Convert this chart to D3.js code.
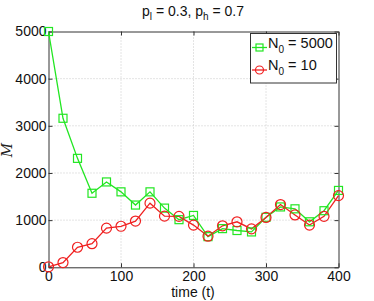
<!DOCTYPE html>
<html>
<head>
<meta charset="utf-8">
<script src="https://cdn.jsdelivr.net/npm/d3@7"></script>
<style>
  body { margin: 0; background: #fff; }
  text { font-family: "Liberation Sans", Arial, sans-serif; }
</style>
</head>
<body>
<script>
const times = d3.range(0, 401, 20);
const high = [5000, 3160, 2310, 1570, 1810, 1600, 1320, 1600, 1255, 1010, 1100,
              650, 820, 780, 750, 1060, 1280, 1240, 965, 1200, 1630];
const low = [10, 100, 425, 500, 830, 870, 980, 1360, 1085, 1080, 895,
             660, 880, 965, 815, 1057, 1330, 1110, 895, 1080, 1520];
const xTicks = [0, 100, 200, 300, 400];
const yTicks = [0, 1000, 2000, 3000, 4000, 5000];

const width = 374, height = 301;
const margin = {top: 31.5, right: 35.5, bottom: 33.7, left: 48.5};
const iw = width - margin.left - margin.right,
      ih = height - margin.top - margin.bottom;

const svg = d3.select('body').append('svg')
    .attr('width', width)
    .attr('height', height);

const x = d3.scaleLinear().domain([0, 400]).range([0, iw]);
const y = d3.scaleLinear().domain([0, 5000]).range([ih, 0]);

const g = svg.append('g')
    .attr('transform', `translate(${margin.left},${margin.top})`);

// grid
g.append('g').selectAll('line')
  .data(xTicks.slice(1, -1))
  .join('line')
    .attr('x1', d => x(d)).attr('x2', d => x(d))
    .attr('y1', 0).attr('y2', ih)
    .attr('stroke', '#c8c8c8').attr('stroke-dasharray', '1,2');
g.append('g').selectAll('line')
  .data(yTicks.slice(1, -1))
  .join('line')
    .attr('x1', 0).attr('x2', iw)
    .attr('y1', d => y(d)).attr('y2', d => y(d))
    .attr('stroke', '#c8c8c8').attr('stroke-dasharray', '1,2');

// axes
const fmt = d3.format('d');
g.append('g')
    .attr('transform', `translate(0,${ih})`)
    .call(d3.axisBottom(x).tickValues(xTicks).tickFormat(fmt).tickSizeInner(-4).tickSizeOuter(0).tickPadding(4));
g.append('g')
    .call(d3.axisLeft(y).tickValues(yTicks).tickFormat(fmt).tickSizeInner(-4).tickSizeOuter(0).tickPadding(2));
g.append('g')
    .attr('transform', `translate(${iw},0)`)
    .call(d3.axisRight(y).tickValues(yTicks).tickSizeInner(-4).tickSizeOuter(0).tickFormat(''));
g.append('g')
    .call(d3.axisTop(x).tickValues(xTicks).tickSizeInner(-4).tickSizeOuter(0).tickFormat(''));

g.selectAll('.domain').attr('stroke', '#333');
g.selectAll('.tick line').attr('stroke', '#333');
g.selectAll('.tick text')
    .attr('fill', '#111')
    .style('font-size', '14px')
    .style('font-family', '"Liberation Sans", Arial, sans-serif');

// series
const line = d3.line().x((d, i) => x(times[i])).y(d => y(d));

g.append('path').datum(high)
    .attr('fill', 'none').attr('stroke', '#22e622').attr('stroke-width', 1.3)
    .attr('d', line);
g.append('path').datum(low)
    .attr('fill', 'none').attr('stroke', '#f02020').attr('stroke-width', 1.3)
    .attr('d', line);

g.append('g').selectAll('rect')
  .data(high)
  .join('rect')
    .attr('x', (d, i) => x(times[i]) - 4)
    .attr('y', d => y(d) - 4)
    .attr('width', 8).attr('height', 8)
    .attr('fill', 'none').attr('stroke', '#22e622').attr('stroke-width', 1.2);
g.append('g').selectAll('circle')
  .data(low)
  .join('circle')
    .attr('cx', (d, i) => x(times[i]))
    .attr('cy', d => y(d))
    .attr('r', 5)
    .attr('fill', 'none').attr('stroke', '#f02020').attr('stroke-width', 1.2);

// title
const title = svg.append('text')
    .attr('x', 193).attr('y', 15.5)
    .attr('text-anchor', 'middle')
    .style('font-size', '14px')
    .attr('fill', '#111');
title.append('tspan').text('p');
title.append('tspan').attr('dy', 4).style('font-size', '10px').text('l');
title.append('tspan').attr('dy', -4).text(' = 0.3, p');
title.append('tspan').attr('dy', 4).style('font-size', '10px').text('h');
title.append('tspan').attr('dy', -4).text(' = 0.7');

// axis labels
svg.append('text')
    .attr('x', 193).attr('y', 297)
    .attr('text-anchor', 'middle')
    .style('font-size', '14px')
    .attr('fill', '#111')
    .text('time (t)');
svg.append('text')
    .attr('transform', 'translate(12,150) rotate(-90)')
    .attr('text-anchor', 'middle')
    .style('font-family', '"DejaVu Serif", "Liberation Serif", serif')
    .style('font-style', 'italic')
    .style('font-size', '14px')
    .attr('fill', '#222')
    .text('M');

// legend
const legend = svg.append('g');
legend.append('rect')
    .attr('x', 250.5).attr('y', 33.5)
    .attr('width', 86).attr('height', 49.5)
    .attr('fill', '#fff').attr('stroke', '#333');

const entries = [
  {label: '5000', color: '#22e622', shape: 'square', y: 47.5},
  {label: '10', color: '#f02020', shape: 'circle', y: 70}
];
entries.forEach(e => {
  legend.append('line')
      .attr('x1', 252).attr('x2', 267)
      .attr('y1', e.y).attr('y2', e.y)
      .attr('stroke', e.color).attr('stroke-width', 1.3);
  if (e.shape === 'square') {
    legend.append('rect')
        .attr('x', 256).attr('y', e.y - 3.5)
        .attr('width', 7).attr('height', 7)
        .attr('fill', 'none').attr('stroke', e.color).attr('stroke-width', 1.2);
  } else {
    legend.append('circle')
        .attr('cx', 259.5).attr('cy', e.y).attr('r', 4)
        .attr('fill', 'none').attr('stroke', e.color).attr('stroke-width', 1.2);
  }
  const t = legend.append('text')
      .attr('x', 268).attr('y', e.y)
      .style('font-size', '14.5px')
      .attr('fill', '#111');
  t.append('tspan').text('N');
  t.append('tspan').attr('dy', 5).style('font-size', '10px').text('0');
  t.append('tspan').attr('dy', -5).text(' = ' + e.label);
});
</script>
</body>
</html>
